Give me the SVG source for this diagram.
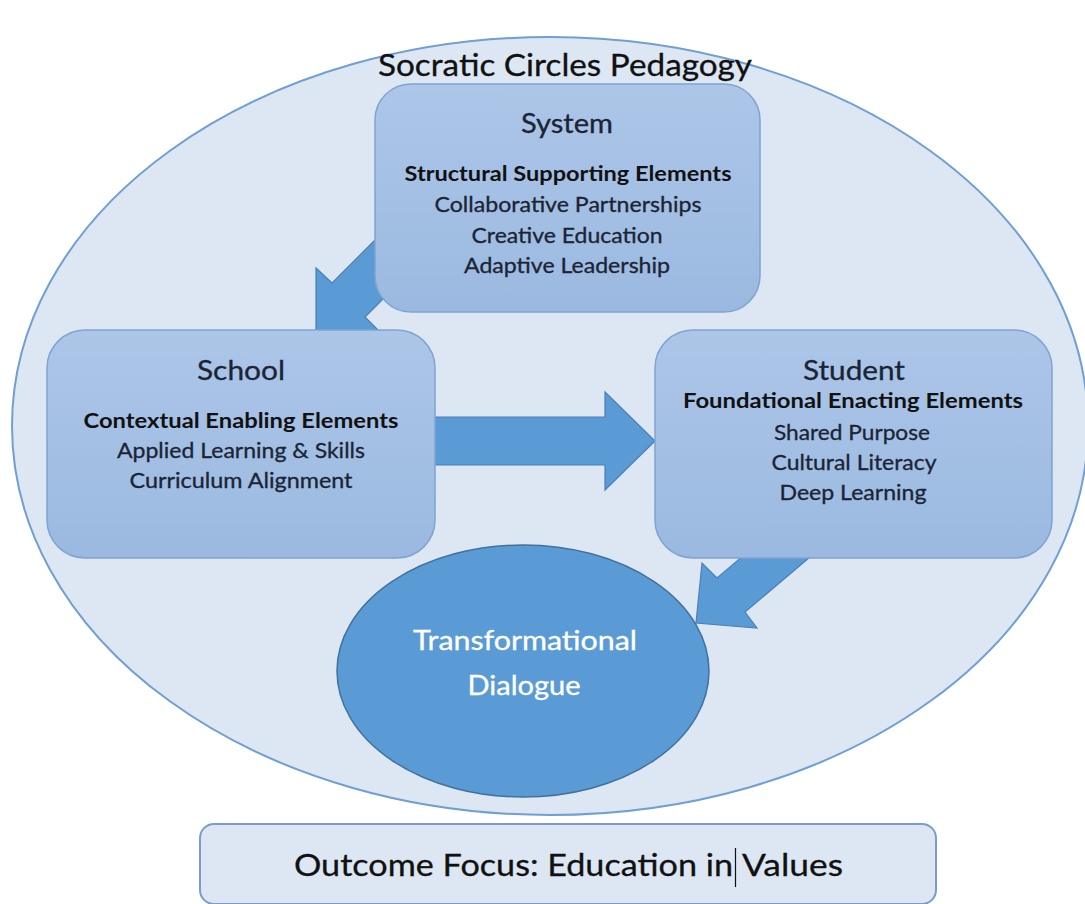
<svg xmlns="http://www.w3.org/2000/svg" width="1085" height="904" viewBox="0 0 1085 904">
  <defs>
    <linearGradient id="boxFill" x1="0" y1="0" x2="0" y2="1">
      <stop offset="0" stop-color="#acc6e8"/>
      <stop offset="1" stop-color="#9bb9e0"/>
    </linearGradient>
    <style>
      .frame { fill: #dce7f3; stroke: #6f9fd3; stroke-width: 2; }
      .box { fill: url(#boxFill); stroke: #7fa4d2; stroke-width: 1.5; }
      .arrow { fill: #5b9bd5; stroke: #4a7fb5; stroke-width: 1.2; stroke-linejoin: miter; }
      .core { fill: #5b9bd5; stroke: #41719c; stroke-width: 1.5; }
      .outcome { fill: #dce7f3; stroke: #7b9cc8; stroke-width: 2; }
      text { font-family: Lato, "Open Sans", "Liberation Sans", sans-serif; text-anchor: middle; fill: #1b2435; stroke: #1b2435; stroke-width: 0.3; }
      .title { font-size: 31px; fill: #111111; stroke: #111111; }
      .head { font-size: 27px; }
      .sub { font-size: 20px; font-weight: bold; fill: #111111; stroke: none; }
      .item { font-size: 21px; }
      .core-label { font-size: 27px; fill: #ffffff; stroke: #ffffff; }
      .outcome-label { font-size: 31px; fill: #111111; stroke: #111111; text-anchor: start; }
    </style>
  </defs>

  <rect width="1085" height="904" fill="#ffffff"/>

  <!-- outer pedagogy frame -->
  <g id="pedagogy">
    <ellipse class="frame" cx="550" cy="426" rx="538" ry="389"/>
    <text class="title" x="565" y="76" textLength="374" lengthAdjust="spacingAndGlyphs">Socratic Circles Pedagogy</text>
  </g>

  <!-- block arrows linking the levels -->
  <g id="connectors">
    <polygon class="arrow" points="392,223 332,283 316,268 316,331 379,331 365,317 425,257"/>
    <polygon class="arrow" points="420,417 605,417 605,392 655,441 605,490 605,465 420,465"/>
    <polygon class="arrow" points="807,502 717,578 702,563 696,623 757,628 745,612 835,536"/>
  </g>

  <g id="system">
    <rect class="box" x="375" y="84" width="385" height="228" rx="36"/>
    <text class="head" x="567" y="133" textLength="92" lengthAdjust="spacingAndGlyphs">System</text>
    <text class="sub" x="568" y="181" textLength="327" lengthAdjust="spacingAndGlyphs">Structural Supporting Elements</text>
    <text class="item" x="568" y="212" textLength="267" lengthAdjust="spacingAndGlyphs">Collaborative Partnerships</text>
    <text class="item" x="567" y="243" textLength="191" lengthAdjust="spacingAndGlyphs">Creative Education</text>
    <text class="item" x="567" y="273" textLength="206" lengthAdjust="spacingAndGlyphs">Adaptive Leadership</text>
  </g>

  <g id="school">
    <rect class="box" x="47" y="330" width="388" height="228" rx="38"/>
    <text class="head" x="241" y="380" textLength="88" lengthAdjust="spacingAndGlyphs">School</text>
    <text class="sub" x="241" y="428" textLength="315" lengthAdjust="spacingAndGlyphs">Contextual Enabling Elements</text>
    <text class="item" x="241" y="458" textLength="248" lengthAdjust="spacingAndGlyphs">Applied Learning &amp; Skills</text>
    <text class="item" x="241" y="488" textLength="223" lengthAdjust="spacingAndGlyphs">Curriculum Alignment</text>
  </g>

  <g id="student">
    <rect class="box" x="655" y="330" width="397" height="228" rx="38"/>
    <text class="head" x="854" y="380" textLength="102" lengthAdjust="spacingAndGlyphs">Student</text>
    <text class="sub" x="853" y="408" textLength="340" lengthAdjust="spacingAndGlyphs">Foundational Enacting Elements</text>
    <text class="item" x="852" y="440" textLength="156" lengthAdjust="spacingAndGlyphs">Shared Purpose</text>
    <text class="item" x="854" y="470" textLength="165" lengthAdjust="spacingAndGlyphs">Cultural Literacy</text>
    <text class="item" x="853" y="500" textLength="147" lengthAdjust="spacingAndGlyphs">Deep Learning</text>
  </g>

  <g id="dialogue">
    <ellipse class="core" cx="523" cy="671" rx="186" ry="126"/>
    <text class="core-label" x="525" y="650" textLength="224" lengthAdjust="spacingAndGlyphs">Transformational</text>
    <text class="core-label" x="524" y="695" textLength="113" lengthAdjust="spacingAndGlyphs">Dialogue</text>
  </g>

  <g id="outcome">
    <rect class="outcome" x="200" y="824" width="736" height="80" rx="14"/>
    <text class="outcome-label" x="294" y="876" textLength="439" lengthAdjust="spacingAndGlyphs">Outcome Focus: Education in</text>
    <line x1="735.5" y1="848" x2="735.5" y2="887" stroke="#111111" stroke-width="1.2"/>
    <text class="outcome-label" x="742" y="876" textLength="101" lengthAdjust="spacingAndGlyphs">Values</text>
  </g>
</svg>
